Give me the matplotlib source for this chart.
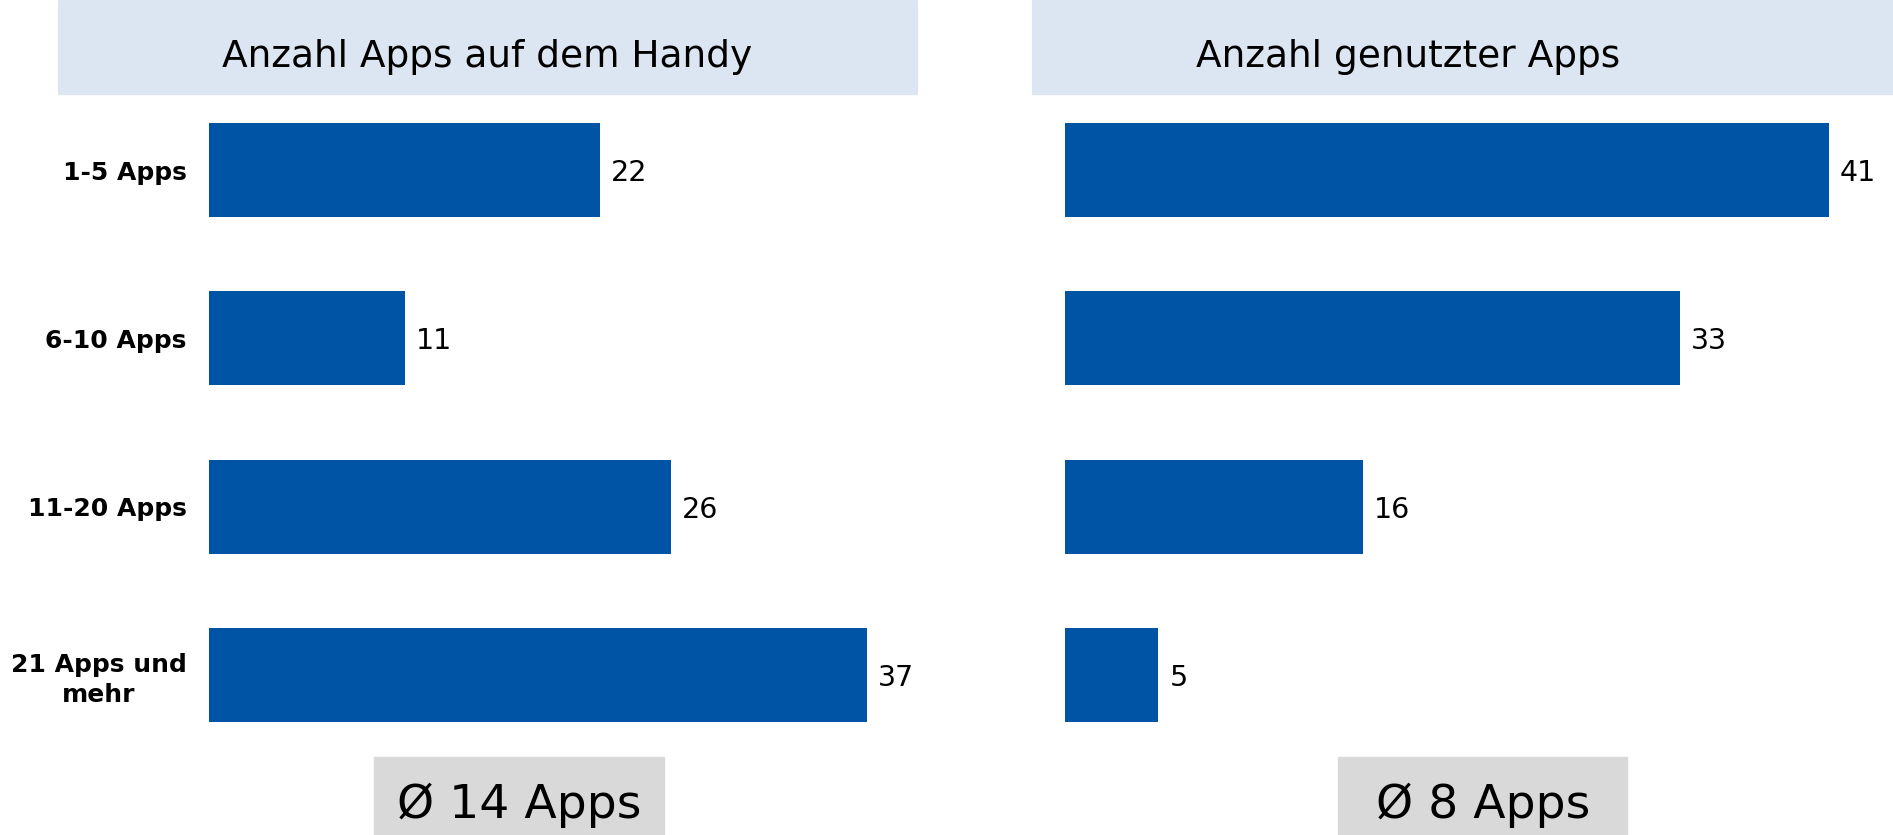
import matplotlib
matplotlib.use("Agg")
import matplotlib.pyplot as plt
from matplotlib.patches import Rectangle

kategorien = ['1-5 Apps', '6-10 Apps', '11-20 Apps', '21 Apps und\nmehr']
apps_handy = [22, 11, 26, 37]
apps_genutzt = [41, 33, 16, 5]
titel_links = 'Anzahl Apps auf dem Handy'
titel_rechts = 'Anzahl genutzter Apps'
schnitt_links = 'Ø 14 Apps'
schnitt_rechts = 'Ø 8 Apps'

BLAU = '#0054A5'
HELLBLAU = '#DCE6F2'
GRAU = '#D9D9D9'

W, H = 1893, 835
fig = plt.figure(figsize=(W / 100, H / 100), dpi=100)


def fx(px):
    return px / W


def fy(py):
    # py gemessen von oben
    return 1 - py / H


# Kopfzeilen und Durchschnittsboxen
fig.patches.append(Rectangle((fx(58), fy(94)), fx(859), 94 / H, color=HELLBLAU,
                             transform=fig.transFigure, zorder=0))
fig.patches.append(Rectangle((fx(1032), fy(94)), fx(861), 94 / H, color=HELLBLAU,
                             transform=fig.transFigure, zorder=0))
fig.patches.append(Rectangle((fx(374), 0), fx(290), 78 / H, color=GRAU,
                             transform=fig.transFigure, zorder=0))
fig.patches.append(Rectangle((fx(1338), 0), fx(289), 78 / H, color=GRAU,
                             transform=fig.transFigure, zorder=0))

fig.text(fx(487), fy(67), titel_links, ha='center', va='baseline', fontsize=27)
fig.text(fx(1408), fy(67), titel_rechts, ha='center', va='baseline', fontsize=27)
fig.text(fx(519), fy(818), schnitt_links, ha='center', va='baseline', fontsize=34)
fig.text(fx(1483), fy(818), schnitt_rechts, ha='center', va='baseline', fontsize=34)

unten = fy(759)
hoehe = 673 / H

# linkes Diagramm
ax1 = fig.add_axes([fx(209), unten, fx(711), hoehe])
y = range(len(kategorien))
ax1.barh(y, apps_handy, height=0.56, color=BLAU)
ax1.set_xlim(0, 40)
ax1.set_ylim(3.5, -0.5)
ax1.set_yticks(list(y))
ax1.set_yticklabels(kategorien, fontsize=18, fontweight='bold')
for lbl in ax1.get_yticklabels():
    lbl.set_multialignment('center')
    lbl.set_linespacing(1.28)
ax1.tick_params(axis='y', length=0, pad=16)
ax1.set_xticks([])

# rechtes Diagramm
ax2 = fig.add_axes([fx(1065), unten, fx(801), hoehe])
ax2.barh(y, apps_genutzt, height=0.56, color=BLAU)
ax2.set_xlim(0, 43)
ax2.set_ylim(3.5, -0.5)
ax2.set_yticks([])
ax2.set_xticks([])

for ax, werte in [(ax1, apps_handy), (ax2, apps_genutzt)]:
    for s in ax.spines.values():
        s.set_visible(False)
    ax.patch.set_alpha(0)
    for i, v in enumerate(werte):
        ax.annotate(str(v), (v, i), xytext=(8, 0), textcoords='offset points',
                    ha='left', va='center_baseline', fontsize=20.5)

fig.savefig('out.png', dpi=100)
